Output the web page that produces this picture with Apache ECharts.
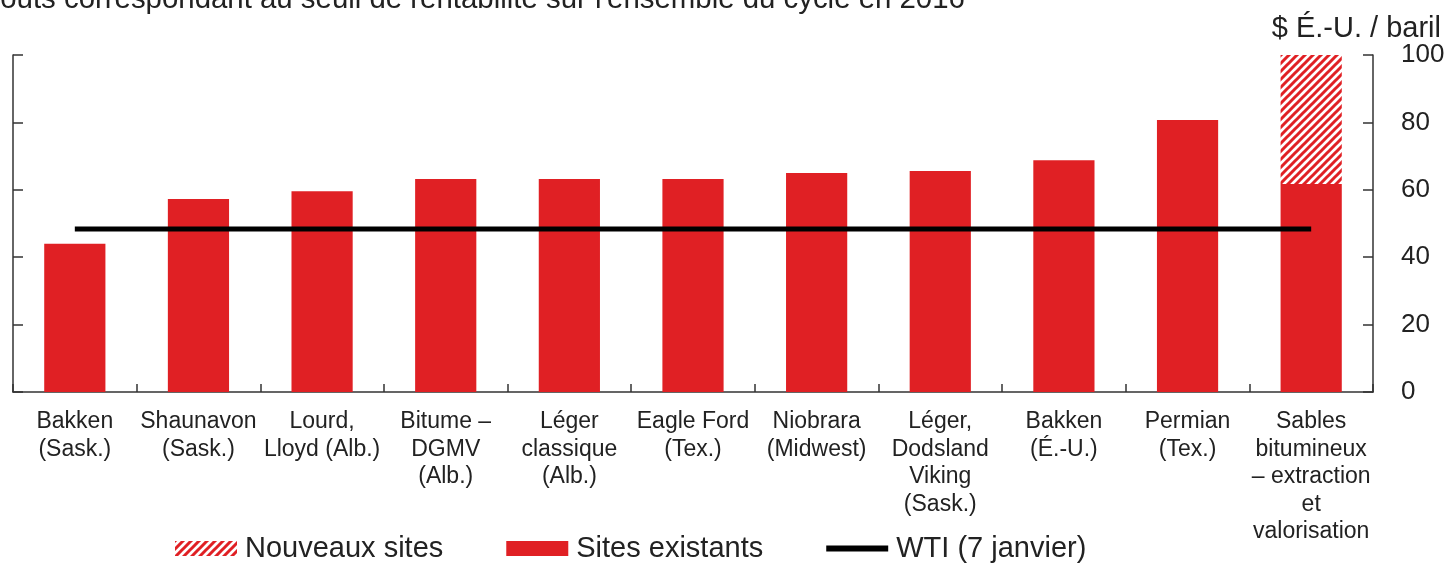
<!DOCTYPE html>
<html>
<head>
<meta charset="utf-8">
<script src="https://cdn.jsdelivr.net/npm/echarts@6/dist/echarts.min.js"></script>
<style>
  html, body { margin: 0; padding: 0; background: #fff; }
  #main { width: 1451px; height: 564px; }
</style>
</head>
<body>
<div id="main"></div>
<script>
// categories (line breaks as in the source)
var categories = [
  'Bakken\n(Sask.)',
  'Shaunavon\n(Sask.)',
  'Lourd,\nLloyd (Alb.)',
  'Bitume –\nDGMV\n(Alb.)',
  'Léger\nclassique\n(Alb.)',
  'Eagle Ford\n(Tex.)',
  'Niobrara\n(Midwest)',
  'Léger,\nDodsland\nViking\n(Sask.)',
  'Bakken\n(É.-U.)',
  'Permian\n(Tex.)',
  'Sables\nbitumineux\n– extraction\net\nvalorisation'
];
var sitesExistants = [44, 57.3, 59.6, 63.2, 63.2, 63.2, 65, 65.6, 68.8, 80.7, 61.7];
var nouveauxSites  = ['-', '-', '-', '-', '-', '-', '-', '-', '-', '-', 38.3];
var wti = [48.4, 48.4, 48.4, 48.4, 48.4, 48.4, 48.4, 48.4, 48.4, 48.4, 48.4];

var RED = '#e02024';
var FONT = 'Liberation Sans, Arial, sans-serif';

// hatch pattern for new sites
var cv = document.createElement('canvas');
cv.width = 8; cv.height = 8;
var cx = cv.getContext('2d');
cx.fillStyle = '#fff';
cx.fillRect(0, 0, 8, 8);
cx.strokeStyle = RED;
cx.lineWidth = 3;
cx.beginPath();
cx.moveTo(-2, 10); cx.lineTo(10, -2);
cx.moveTo(-2, 2); cx.lineTo(2, -2);
cx.moveTo(6, 10); cx.lineTo(10, 6);
cx.stroke();

// thick line icon for the WTI legend entry (tiny dots keep the 62x15 box)
var lineIcon = 'path://M0,0L0.01,0L0.01,0.01Z M0,4.5L62,4.5L62,10.5L0,10.5Z M0,15L0.01,15L0.01,15.01Z';

var myChart = echarts.init(document.getElementById('main'));
myChart.setOption({
  animation: false,
  textStyle: { fontFamily: FONT },
  graphic: [{
    type: 'text',
    x: -21,
    y: 14,
    style: {
      text: "Coûts correspondant au seuil de rentabilité sur l'ensemble du cycle en 2016",
      fontSize: 29.4,
      fontFamily: FONT,
      fill: '#222',
      verticalAlign: 'bottom'
    }
  }],
  title: {
    text: '$ É.-U. / baril',
    right: 5,
    top: 9,
    textStyle: { fontSize: 29, fontWeight: 'normal', color: '#222', fontFamily: FONT }
  },
  legend: {
    left: 170,
    top: 529,
    itemWidth: 62,
    itemHeight: 15,
    itemGap: 63,
    textStyle: { fontSize: 29, color: '#222', fontFamily: FONT, padding: [0, 0, 0, 3] },
    data: [
      { name: 'Nouveaux sites', icon: 'rect' },
      { name: 'Sites existants', icon: 'rect' },
      { name: 'WTI (7 janvier)', icon: lineIcon, itemStyle: { color: '#000' } }
    ]
  },
  grid: { left: 13, right: 78, top: 55, bottom: 172, containLabel: false },
  xAxis: {
    type: 'category',
    data: categories,
    axisLine: { lineStyle: { color: '#333', width: 1.5 } },
    axisTick: { show: true, inside: true, length: 8, interval: 0, lineStyle: { color: '#333', width: 1.5 } },
    axisLabel: { interval: 0, fontSize: 23, lineHeight: 27.5, color: '#222', margin: 16 }
  },
  yAxis: [{
    type: 'value',
    position: 'right',
    min: 0, max: 100, interval: 20,
    splitLine: { show: false },
    axisLine: { show: true, lineStyle: { color: '#333', width: 1.5 } },
    axisTick: { show: true, inside: true, length: 10, lineStyle: { color: '#333', width: 1.5 } },
    axisLabel: { fontSize: 26, color: '#222', margin: 28 }
  }, {
    type: 'value',
    position: 'left',
    min: 0, max: 100, interval: 20,
    splitLine: { show: false },
    axisLine: { show: true, lineStyle: { color: '#333', width: 1.5 } },
    axisTick: { show: true, inside: true, length: 10, lineStyle: { color: '#333', width: 1.5 } },
    axisLabel: { show: false }
  }],
  series: [{
    name: 'Sites existants',
    type: 'bar',
    stack: 'total',
    barWidth: '49.5%',
    itemStyle: { color: RED },
    data: sitesExistants
  }, {
    name: 'Nouveaux sites',
    type: 'bar',
    stack: 'total',
    barWidth: '49.5%',
    itemStyle: { color: { image: cv, repeat: 'repeat' } },
    data: nouveauxSites
  }, {
    name: 'WTI (7 janvier)',
    type: 'line',
    symbol: 'none',
    lineStyle: { color: '#000', width: 5 },
    itemStyle: { color: '#000' },
    data: wti,
    z: 5
  }]
});
</script>
</body>
</html>
